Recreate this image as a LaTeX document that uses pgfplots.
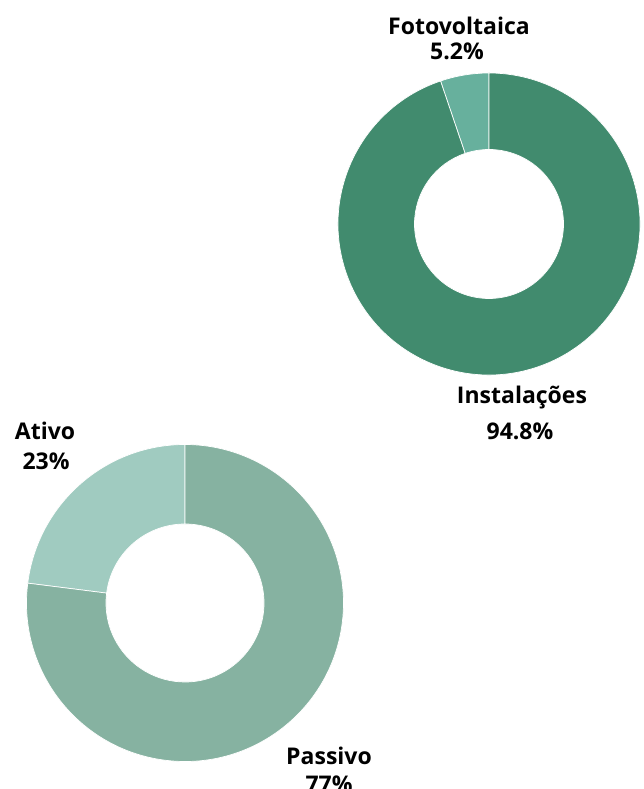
\documentclass[border=0pt]{standalone}
\usepackage{pgfplots}
\pgfplotsset{compat=1.18}
\usepackage{pgfplotstable}
\usepackage{fontspec}
\setmainfont{Open Sans}
\definecolor{cInst}{HTML}{418B6E}
\definecolor{cFoto}{HTML}{67B09D}
\definecolor{cPass}{HTML}{86B2A1}
\definecolor{cAtiv}{HTML}{A0CBC0}
% share of each slice, in percent, counter-clockwise from 12 o'clock
\pgfplotstableread{
name start pct
Fotovoltaica 0 5.2
Instalacoes 5.2 94.8
}\energia
\pgfplotstableread{
name start pct
Ativo 0 23
Passivo 23 77
}\balanco
% #1 cx, #2 cy, #3 R, #4 r, #5 table, #6 row, #7 colour
\newcommand{\slice}[7]{%
  \pgfplotstablegetelem{#6}{start}\of{#5}\let\sst\pgfplotsretval
  \pgfplotstablegetelem{#6}{pct}\of{#5}\let\spc\pgfplotsretval
  \pgfmathsetmacro\aA{90+3.6*\sst}%
  \pgfmathsetmacro\aB{90+3.6*(\sst+\spc)}%
  \edef\temp{\noexpand\fill[#7, draw=white, line width=0.7pt]
    (axis cs:{#1+#3*cos(\aA)},{#2+#3*sin(\aA)})
    arc[start angle=\aA, end angle=\aB, radius=#3pt]
    -- (axis cs:{#1+#4*cos(\aB)},{#2+#4*sin(\aB)})
    arc[start angle=\aB, end angle=\aA, radius=#4pt] -- cycle;}%
  \temp}
\begin{document}
\begin{tikzpicture}
\useasboundingbox (0,0) rectangle (643pt,789pt);
\clip (0,0) rectangle (643pt,789pt);
\begin{axis}[
  at={(0,0)}, anchor=origin,
  x=1pt, y=1pt,
  xmin=0, xmax=643, ymin=0, ymax=789,
  hide axis, clip=false,
]
\slice{489}{565}{151}{74.5}{\energia}{0}{cFoto}
\slice{489}{565}{151}{74.5}{\energia}{1}{cInst}
\slice{185}{186}{158.5}{79}{\balanco}{0}{cAtiv}
\slice{185}{186}{158.5}{79}{\balanco}{1}{cPass}
\begin{scope}[every node/.style={font=\fontsize{23}{27}\selectfont\bfseries, anchor=base, inner sep=0pt}]
\node at (axis cs:459,754) {Fotovoltaica};
\node at (axis cs:457,729) {5.2\%};
\node at (axis cs:522,385) {Instalações};
\node at (axis cs:520,349) {94.8\%};
\node at (axis cs:45,349) {Ativo};
\node at (axis cs:46,319) {23\%};
\node at (axis cs:329,24) {Passivo};
\node at (axis cs:329,-4) {77\%};
\end{scope}
\end{axis}
\end{tikzpicture}
\end{document}
